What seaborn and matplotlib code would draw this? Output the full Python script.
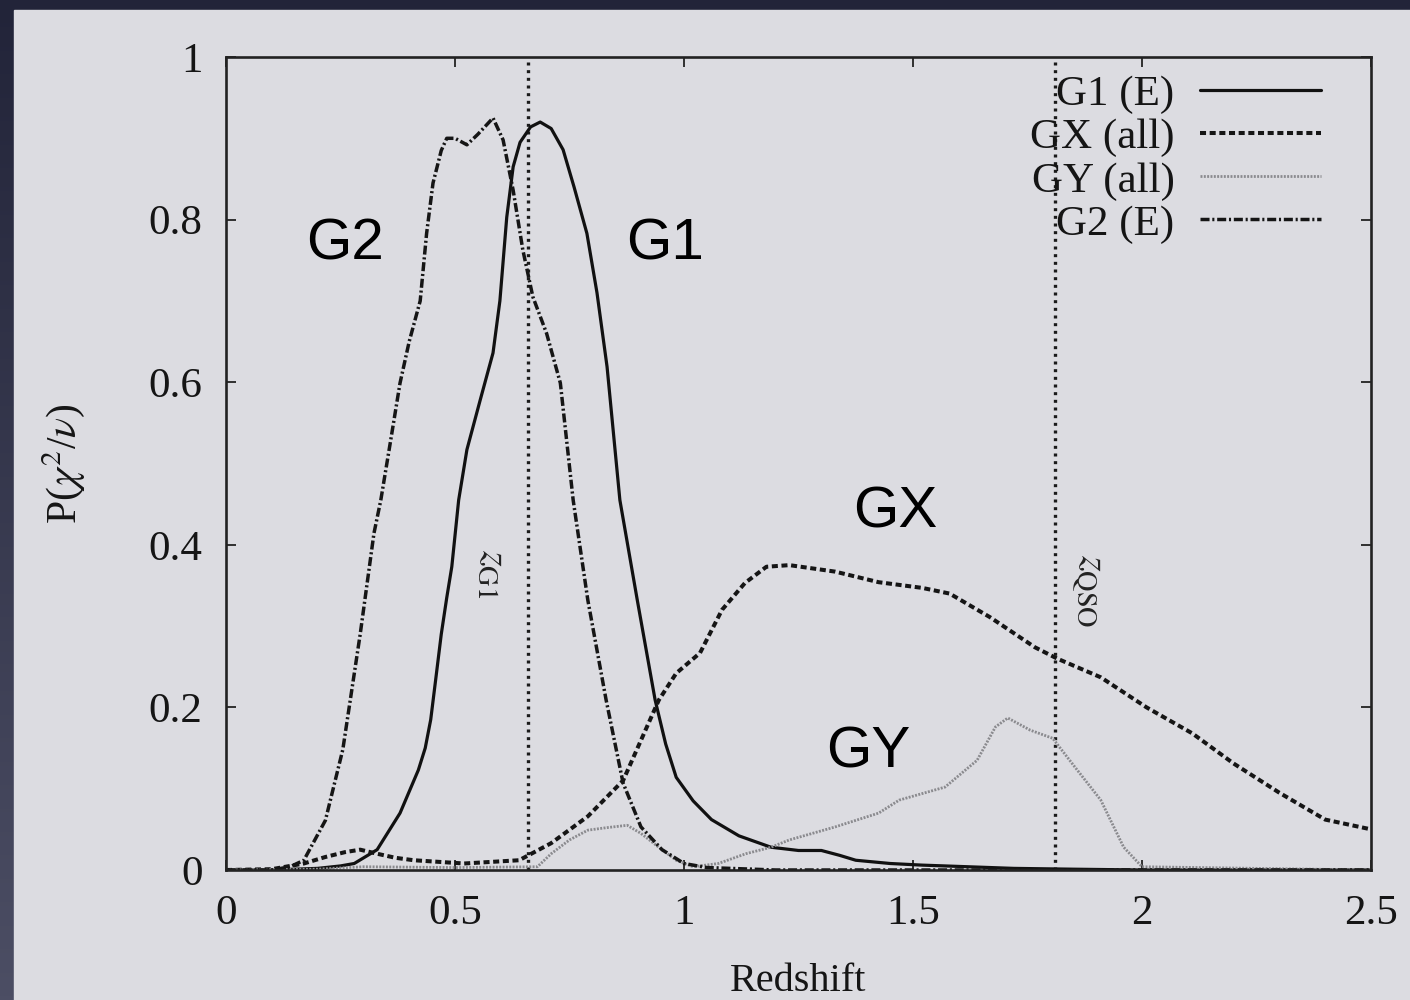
import numpy as np
import pandas as pd
import matplotlib
matplotlib.use("Agg")
import matplotlib.pyplot as plt
import seaborn as sns

# ---- probability curves P(chi^2/nu) versus redshift ----
g1_z = [0, 0.1, 0.2, 0.25, 0.28, 0.33, 0.38, 0.42, 0.435, 0.447, 0.458, 0.47, 0.482, 0.493,
        0.508, 0.526, 0.555, 0.583, 0.598, 0.613, 0.627, 0.642, 0.665, 0.686, 0.71, 0.736,
        0.76, 0.788, 0.81, 0.832, 0.86, 0.898, 0.937, 0.96, 0.983, 1.02, 1.06, 1.12, 1.19,
        1.25, 1.30, 1.34, 1.375, 1.45, 1.52, 1.62, 1.72, 1.85, 2.0, 2.5]
g1_p = [0, 0, 0.002, 0.005, 0.008, 0.025, 0.07, 0.123, 0.15, 0.185, 0.235, 0.29, 0.335, 0.373,
        0.455, 0.517, 0.578, 0.636, 0.70, 0.803, 0.865, 0.895, 0.914, 0.92, 0.912, 0.886,
        0.84, 0.783, 0.71, 0.619, 0.455, 0.332, 0.209, 0.155, 0.114, 0.085, 0.062, 0.042, 0.028,
        0.024, 0.024, 0.018, 0.012, 0.008, 0.006, 0.004, 0.002, 0.001, 0, 0]

gx_z = [0, 0.1, 0.17, 0.217, 0.26, 0.293, 0.33, 0.37, 0.41, 0.52, 0.64, 0.71, 0.79,
        0.867, 0.945, 0.983, 1.035, 1.083, 1.133, 1.18, 1.23, 1.33, 1.425, 1.52, 1.58,
        1.668, 1.766, 1.815, 1.91, 2.01, 2.11, 2.2, 2.3, 2.4, 2.5]
gx_p = [0, 0.001, 0.008, 0.016, 0.022, 0.025, 0.02, 0.015, 0.012, 0.008, 0.012, 0.033, 0.066,
        0.11, 0.209, 0.242, 0.267, 0.32, 0.353, 0.373, 0.375, 0.367, 0.354, 0.347, 0.34,
        0.311, 0.274, 0.26, 0.237, 0.20, 0.168, 0.131, 0.095, 0.062, 0.05]

gy_z = [0, 0.2, 0.3, 0.5, 0.68, 0.71, 0.75, 0.79, 0.83, 0.876, 0.906, 0.945, 0.983, 1.02,
        1.075, 1.135, 1.19, 1.23, 1.33, 1.425, 1.47, 1.57, 1.64, 1.68, 1.707, 1.756,
        1.805, 1.853, 1.91, 1.96, 2.0, 2.5]
gy_p = [0, 0.001, 0.004, 0.003, 0.004, 0.02, 0.037, 0.049, 0.052, 0.055, 0.045, 0.028, 0.012, 0.004,
        0.008, 0.02, 0.028, 0.037, 0.053, 0.07, 0.086, 0.102, 0.135, 0.176, 0.187, 0.172,
        0.162, 0.127, 0.086, 0.028, 0.004, 0]

g2_z = [0, 0.1, 0.14, 0.17, 0.217, 0.255, 0.293, 0.323, 0.338, 0.36, 0.38, 0.40, 0.424,
        0.438, 0.452, 0.47, 0.482, 0.50, 0.526, 0.55, 0.583, 0.605, 0.627, 0.648, 0.67,
        0.70, 0.73, 0.758, 0.79, 0.83, 0.867, 0.906, 0.952, 1.0, 1.05, 1.2, 2.5]
g2_p = [0, 0, 0.004, 0.012, 0.061, 0.148, 0.29, 0.414, 0.455, 0.53, 0.599, 0.65, 0.70,
        0.783, 0.845, 0.885, 0.90, 0.90, 0.892, 0.905, 0.925, 0.898, 0.836, 0.763, 0.705,
        0.66, 0.599, 0.455, 0.332, 0.209, 0.107, 0.053, 0.025, 0.008, 0.003, 0, 0]

legend_labels = ["G1 (E)", "GX (all)", "GY (all)", "G2 (E)"]

# redshifts of the lens galaxy and the quasar
z_g1 = 0.66
z_qso = 1.81

x_ticks = [0, 0.5, 1, 1.5, 2, 2.5]
y_ticks = [0, 0.2, 0.4, 0.6, 0.8, 1]

# object names written next to their curves
name_text = ["G2", "G1", "GX", "GY"]
name_x = [0.26, 0.959, 1.461, 1.402]
name_y = [0.769, 0.769, 0.44, 0.145]

sns.set_style("ticks")
plt.rcParams["font.family"] = ["Liberation Serif", "DejaVu Serif"]
plt.rcParams["mathtext.fontset"] = "stix"

panel = "#dcdce1"
fig = plt.figure(figsize=(14.1, 10), dpi=100)

# slide backdrop with a soft vertical gradient
bg = fig.add_axes([0, 0, 1, 1], zorder=-10)
grad = np.linspace(0, 1, 256).reshape(-1, 1)
cmap = matplotlib.colors.LinearSegmentedColormap.from_list("bg", ["#222439", "#4c4e64"])
bg.imshow(grad, aspect="auto", cmap=cmap, extent=[0, 1, 0, 1], origin="upper")
bg.add_patch(plt.Rectangle((14 / 1410, 0), 1, 1 - 10 / 1000, color=panel, zorder=2))
bg.set_xlim(0, 1)
bg.set_ylim(0, 1)
bg.axis("off")

ax = fig.add_axes([226 / 1410, 0.13, 1145 / 1410, 0.813])
ax.set_facecolor(panel)

sns.lineplot(x=g1_z, y=g1_p, ax=ax, color="#111111", lw=2.3, label=legend_labels[0])
sns.lineplot(x=gx_z, y=gx_p, ax=ax, color="#151515", lw=2.9,
             linestyle=(0, (1.5, 0.9)), label=legend_labels[1])
sns.lineplot(x=gy_z, y=gy_p, ax=ax, color="#8a8a8e", lw=2.0,
             linestyle=(0, (0.7, 0.5)), label=legend_labels[2])
sns.lineplot(x=g2_z, y=g2_p, ax=ax, color="#151515", lw=2.5,
             linestyle=(0, (2.6, 0.8, 0.6, 0.8)), label=legend_labels[3])

for zv in (z_g1, z_qso):
    ax.axvline(zv, color="#1a1a1a", lw=2.4, linestyle=(0, (0.9, 1.4)), zorder=1)

ax.text(z_g1 - 0.078, 0.365, r"$z_{\rm G1}$", rotation=-90, ha="center", va="center",
        fontsize=29, color="#222222")
ax.text(z_qso + 0.07, 0.344, r"$z_{\rm QSO}$", rotation=-90, ha="center", va="center",
        fontsize=29, color="#222222")

for t, xx, yy in zip(name_text, name_x, name_y):
    ax.text(xx, yy, t, ha="center", va="center", fontsize=42, color="black",
            family=["Liberation Sans", "DejaVu Sans"])

ax.set_xlim(0, 2.5)
ax.set_ylim(0, 1)
ax.set_xticks(x_ticks)
ax.set_yticks(y_ticks)
ax.set_xticklabels([f"{v:g}" for v in x_ticks])
ax.set_yticklabels([f"{v:g}" for v in y_ticks])
ax.tick_params(axis="both", direction="in", length=7, width=1.3, colors="#222222",
               labelsize=31, labelcolor="#151515", top=True, right=True)
ax.tick_params(axis="x", pad=18)
ax.tick_params(axis="y", pad=17)
for s in ax.spines.values():
    s.set_visible(True)
    s.set_linewidth(1.9)
    s.set_color("#222222")

ax.set_xlabel("Redshift", fontsize=29, color="#151515", labelpad=21)
ax.set_ylabel(r"P($\chi^2$/$\nu$)", fontsize=30, color="#151515", labelpad=44)

leg = ax.legend(loc="upper right", bbox_to_anchor=(0.975, 1.004), frameon=False,
                markerfirst=False, fontsize=31, handlelength=2.8, handletextpad=0.6,
                labelspacing=0.09, borderpad=0)
for t in leg.get_texts():
    t.set_color("#151515")

fig.savefig("out.png", dpi=100, facecolor=fig.get_facecolor())
